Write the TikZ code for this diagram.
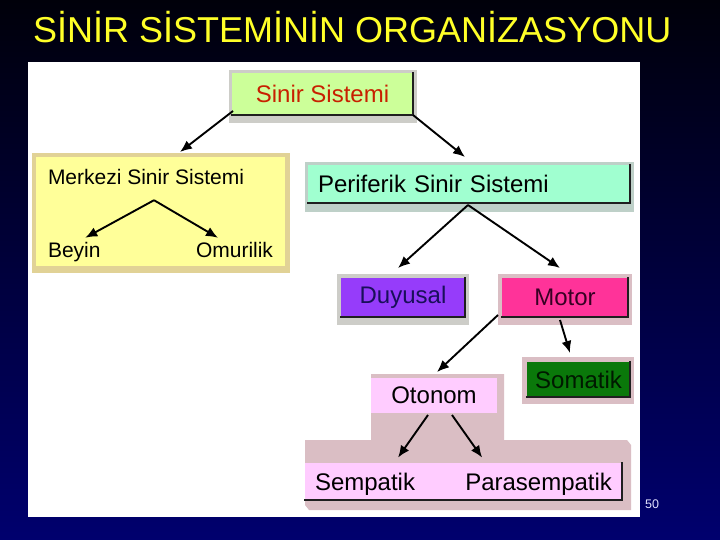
\documentclass[tikz,border=0pt]{standalone}
\usepackage{fontspec}
\setmainfont{Liberation Sans}
\usetikzlibrary{arrows.meta}
\pgfdeclarelayer{background}
\pgfsetlayers{background,main}
\definecolor{bgtop}{RGB}{0,0,10}
\definecolor{bgbot}{RGB}{0,0,110}
\definecolor{ttl}{RGB}{255,255,40}
\definecolor{cgreen}{RGB}{204,255,153}
\definecolor{credtxt}{RGB}{200,32,0}
\definecolor{cyellow}{RGB}{255,255,153}
\definecolor{cmint}{RGB}{160,255,208}
\definecolor{cpurple}{RGB}{150,60,250}
\definecolor{cnavytxt}{RGB}{25,15,90}
\definecolor{cpink}{RGB}{255,51,153}
\definecolor{cpinktxt}{RGB}{55,0,35}
\definecolor{cdgreen}{RGB}{10,120,10}
\definecolor{cdgtxt}{RGB}{0,25,0}
\definecolor{clpink}{RGB}{255,204,255}
\definecolor{shgray}{RGB}{205,205,200}
\definecolor{shtan}{RGB}{225,210,150}
\definecolor{shmint}{RGB}{190,208,200}
\definecolor{shpink}{RGB}{218,190,196}
\definecolor{numcol}{RGB}{225,225,255}
\tikzset{
  facebox/.style={inner sep=0pt, outer sep=0pt, font=\fontsize{24}{28}\selectfont},
  txt/.style={inner sep=0pt, outer sep=0pt},
  edge/.style={line width=1.6pt, draw=black!88, line cap=rect},
  arr/.style={line width=1.9pt, -{Latex[length=12pt,width=10pt]}},
}
\begin{document}
\begin{tikzpicture}[x=1pt,y=-1pt]
\begin{pgfonlayer}{background}
  \shade[top color=bgtop, bottom color=bgbot] (0,0) rectangle (720,540);
  \fill[white] (28,62) rectangle (640,517);
\end{pgfonlayer}
\useasboundingbox (0,0) rectangle (720,540);

\node[anchor=base west, inner sep=0pt, text=ttl, font=\fontsize{36}{40}\selectfont] (title) at (33,43) {SİNİR SİSTEMİNİN ORGANİZASYONU};

% boxes
\node[facebox, fill=cgreen, text=credtxt, minimum width=181pt, minimum height=42pt] (ss) at (322.5,94) {Sinir Sistemi};
\node[facebox, fill=cyellow, minimum width=249pt, minimum height=109pt] (mss) at (160.5,211.5) {};
\node[txt, anchor=base west, font=\fontsize{21}{24}\selectfont] (msst) at (48,185) {Merkezi Sinir Sistemi};
\node[txt, anchor=base west, font=\fontsize{21}{24}\selectfont] (beyin) at (48,258) {Beyin};
\node[txt, anchor=base east, font=\fontsize{21}{24}\selectfont] (omur) at (273,258) {Omurilik};
\node[facebox, fill=cmint, minimum width=322pt, minimum height=38pt, text width=302pt, inner xsep=10pt, align=left] (pss) at (469,184) {Periferik Sinir Sistemi};
\node[facebox, fill=cpurple, text=cnavytxt, minimum width=124pt, minimum height=39pt] (duy) at (403,297.5) {Duyusal};
\node[facebox, fill=cpink, text=cpinktxt, minimum width=126pt, minimum height=39pt] (mot) at (565,297.5) {Motor};
\node[facebox, fill=cdgreen, text=cdgtxt, minimum width=103pt, minimum height=35pt] (som) at (578.5,379.5) {Somatik};
\node[facebox, fill=clpink, minimum width=126pt, minimum height=35pt] (oto) at (434,395.5) {Otonom};
\node[facebox, fill=clpink, minimum width=317pt, minimum height=37pt] (base) at (463.5,481.5) {};
\node[txt, anchor=base west, font=\fontsize{24}{28}\selectfont] (sem) at (315,490) {Sempatik};
\node[txt, anchor=base east, font=\fontsize{24}{28}\selectfont] (para) at (612,490) {Parasempatik};

\node[anchor=base west, inner sep=0pt, text=numcol, font=\fontsize{12.5}{14}\selectfont] (num) at (645,508) {50};

% shadows
\begin{pgfonlayer}{background}
  \fill[shgray] ([shift={(-3,-3)}]ss.north west) rectangle ([shift={(4,8)}]ss.south east);
  \fill[shtan] ([shift={(-4,-4)}]mss.north west) rectangle ([shift={(5,7)}]mss.south east);
  \fill[shmint] ([shift={(-3,-3)}]pss.north west) rectangle ([shift={(4,9)}]pss.south east);
  \fill[shgray] ([shift={(-4,-4)}]duy.north west) rectangle ([shift={(4,8)}]duy.south east);
  \fill[shpink] ([shift={(-4,-4)}]mot.north west) rectangle ([shift={(4,8)}]mot.south east);
  \fill[shpink] ([shift={(-5,-5)}]som.north west) rectangle ([shift={(4,7)}]som.south east);
  \fill[shpink] (371,374) -- (504,374) -- (504,440) -- (627,440) -- (631,445) -- (631,510) -- (309,510) -- (305,505) -- (305,440) -- (371,440) -- cycle;
\end{pgfonlayer}

% dark edges
\foreach \n in {ss,pss,duy,mot,som,base}{
  \draw[edge] (\n.north east) -- (\n.south east) -- (\n.south west);
}

% arrows
\draw[arr] ([shift={(1,-4)}]ss.south west) -- ([shift={(19.5,-5)}]mss.north);
\draw[arr] (ss.south east) -- ([shift={(-4,-8)}]pss.north);
\draw[arr] ([shift={(8,15)}]msst.south) -- ([shift={(11,-5)}]beyin.north);
\draw[arr] ([shift={(8,15)}]msst.south) -- ([shift={(-16.5,-5)}]omur.north);
\draw[arr] ([shift={(-1,2)}]pss.south) -- ([shift={(-5,-10)}]duy.north);
\draw[arr] ([shift={(-1,2)}]pss.south) -- ([shift={(-5,-10)}]mot.north);
\draw[arr] ([shift={(-4,-2)}]mot.south west) -- ([shift={(3,-6)}]oto.north);
\draw[arr] ([shift={(-5,3)}]mot.south) -- ([shift={(-8.5,-9)}]som.north);
\draw[arr] ([shift={(-6,2)}]oto.south) -- ([shift={(33,-15)}]sem.north);
\draw[arr] ([shift={(18,2)}]oto.south) -- ([shift={(-56.5,-15)}]para.north);
\end{tikzpicture}
\end{document}
